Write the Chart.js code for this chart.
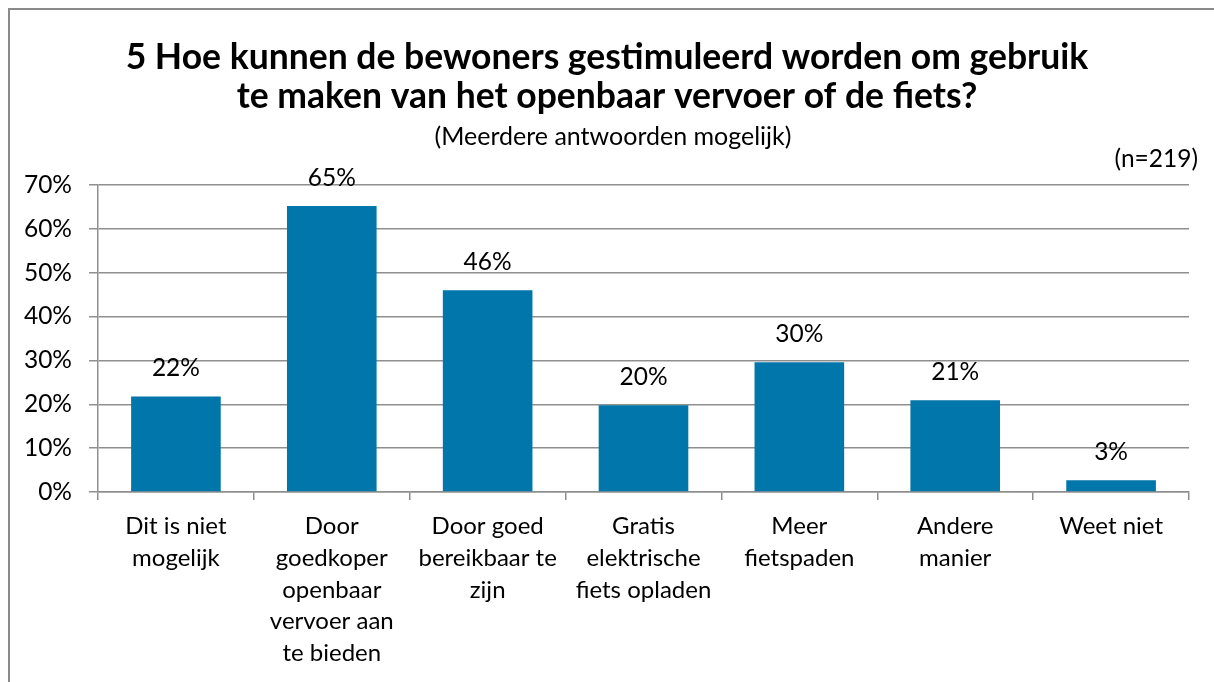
<!DOCTYPE html>
<html>
<head>
<meta charset="utf-8">
<script src="https://cdn.jsdelivr.net/npm/chart.js@4"></script>
<style>
  html, body { margin: 0; padding: 0; background: #fff; }
  #wrap { width: 1214px; height: 682px; position: relative; }
</style>
</head>
<body>
<div id="wrap"><canvas id="surveyChart"></canvas></div>
<script>
const categories = [
  ["Dit is niet", "mogelijk"],
  ["Door", "goedkoper", "openbaar", "vervoer aan", "te bieden"],
  ["Door goed", "bereikbaar te", "zijn"],
  ["Gratis", "elektrische", "fiets opladen"],
  ["Meer", "fietspaden"],
  ["Andere", "manier"],
  ["Weet niet"],
];
const percentages = [21.8, 65.2, 46.0, 19.8, 29.6, 20.9, 2.7];
const yTicks = [0, 10, 20, 30, 40, 50, 60, 70];

const titleLines = [
  "5 Hoe kunnen de bewoners gestimuleerd worden om gebruik",
  "te maken van het openbaar vervoer of de fiets?",
];
const subtitle = "(Meerdere antwoorden mogelijk)";
const sampleNote = "(n=219)";

const FONT = "Lato, 'Open Sans', sans-serif";
const gridColor = "#8f8f8f";

// frame, titles and n-note
const decorations = {
  id: "decorations",
  beforeDraw(chart) {
    const ctx = chart.ctx;
    ctx.save();
    ctx.fillStyle = "#fff";
    ctx.fillRect(0, 0, chart.width, chart.height);
    ctx.strokeStyle = "#8a8a8a";
    ctx.lineWidth = 2;
    ctx.strokeRect(9, 9, chart.width + 20, chart.height + 20);
    ctx.fillStyle = "#000";
    ctx.textAlign = "center";
    ctx.textBaseline = "alphabetic";
    ctx.font = "bold 35.5px " + FONT;
    ctx.fillText(titleLines[0], 607, 69);
    ctx.fillText(titleLines[1], 607, 108);
    ctx.font = "25px " + FONT;
    ctx.fillText(subtitle, 613, 145);
    ctx.font = "24.5px " + FONT;
    ctx.textAlign = "right";
    ctx.fillText(sampleNote, 1198, 167);
    ctx.restore();
  },
};

// value labels above the bars
const valueLabels = {
  id: "valueLabels",
  afterDatasetsDraw(chart) {
    const ctx = chart.ctx;
    const meta = chart.getDatasetMeta(0);
    ctx.save();
    ctx.fillStyle = "#000";
    ctx.font = "24.5px " + FONT;
    ctx.textAlign = "center";
    ctx.textBaseline = "alphabetic";
    meta.data.forEach((bar, i) => {
      ctx.fillText(Math.round(percentages[i]) + "%", bar.x, bar.y - 20);
    });
    ctx.restore();
  },
};

const ctx = document.getElementById("surveyChart").getContext("2d");
new Chart(ctx, {
  type: "bar",
  data: {
    labels: categories,
    datasets: [
      {
        label: "Percentage",
        data: percentages,
        backgroundColor: "#0076aa",
        borderWidth: 0,
        categoryPercentage: 1,
        barPercentage: 0.575,
      },
    ],
  },
  options: {
    responsive: true,
    maintainAspectRatio: false,
    animation: false,
    layout: {
      padding: { top: 185, right: 25, bottom: 0, left: 0 },
    },
    plugins: {
      legend: { display: false },
      tooltip: { enabled: false },
    },
    scales: {
      y: {
        min: 0,
        max: 70,
        afterBuildTicks: (scale) => {
          scale.ticks = yTicks.map((v) => ({ value: v }));
        },
        afterFit: (scale) => {
          scale.width = 98;
        },
        ticks: {
          color: "#000",
          font: { family: FONT, size: 24.5 },
          padding: 17,
          callback: (v) => v + "%",
        },
        grid: {
          color: gridColor,
          lineWidth: 1.5,
          tickLength: 9,
        },
        border: { color: gridColor, width: 1.5 },
      },
      x: {
        afterFit: (scale) => {
          scale.height = 190;
        },
        ticks: {
          color: "#000",
          font: { family: FONT, size: 24, lineHeight: 1.33 },
          padding: 10,
          maxRotation: 0,
          autoSkip: false,
        },
        grid: {
          drawOnChartArea: false,
          color: gridColor,
          lineWidth: 1.5,
          tickLength: 8,
        },
        border: { color: gridColor, width: 1.5 },
      },
    },
  },
  plugins: [decorations, valueLabels],
});
</script>
</body>
</html>
